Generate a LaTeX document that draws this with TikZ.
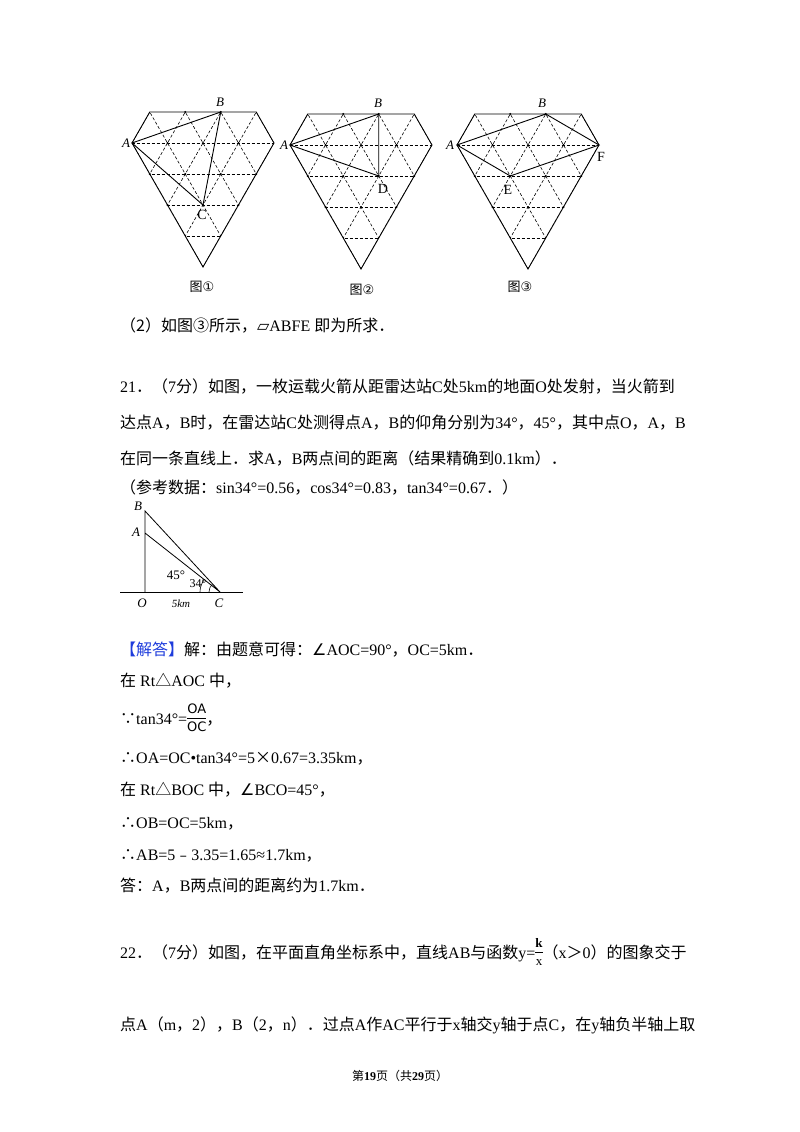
\documentclass[tikz,border=0pt]{standalone}
\usepackage{fontspec}
\setmainfont{Liberation Serif}
\newfontfamily\cjk{Noto Sans CJK SC}
\newfontfamily\dvs{DejaVu Sans}
\newcommand\zh[1]{{\cjk #1}}
\newcommand\myfr[2]{$\vcenter{\hbox{\fontsize{13}{14}\selectfont\setlength\tabcolsep{0pt}\begin{tabular}{c}#1\\[1pt]\hline\rule{0pt}{13pt}#2\end{tabular}}}$}
\newcommand\diagridA[1]{%
\begin{scope}[shift={#1},x={(35.5pt,0)},y={(0,31pt)}]
\begin{scope}
\clip (0,0)--(0.5,1)--(3.5,1)--(4,0)--(2,-4)--cycle;
\foreach \r in {-3,...,0} \draw[gridl] (-1,\r)--(5,\r);
\foreach \k in {-3,...,6} {\draw[gridl] (\k-2.5,-5)--(\k+1,2); \draw[gridl] (\k+2.5,-5)--(\k-1,2);}
\end{scope}
\draw[outl] (0,0)--(0.5,1)--(3.5,1)--(4,0)--(2,-4)--cycle;
\foreach \p in {(1,0),(2,0),(3,0),(1.5,-1),(2.5,-1),(1,-2),(2,-2),(3,-2),(1.5,1),(2.5,1),(0.5,-1),(3.5,-1)} \fill \p circle (0.035);
\end{scope}}
\tikzset{gridl/.style={dashed,line width=0.6pt,dash pattern=on 3pt off 2pt},outl/.style={line width=0.9pt},
 body/.style={anchor=base west,inner sep=0pt,font=\fontsize{16}{18}\selectfont},
 lab/.style={inner sep=0pt,font=\fontsize{13}{15}\selectfont}}
\begin{document}
\begin{tikzpicture}[x=1pt,y=-1pt]
\useasboundingbox (0,0) rectangle (800,1132);
\fill[white] (0,0) rectangle (800,1132);
% figures
\diagridA{(132,143)}
\diagridA{(290,145)}
\diagridA{(457,145)}
\begin{scope}[shift={(132,143)},x={(35.5pt,0)},y={(0,31pt)}]
\coordinate (a1) at (0,0); \coordinate (b1) at (2.5,1); \coordinate (c1) at (2,-2);
\draw[outl] (a1)--(b1)--(c1)--cycle;
\end{scope}
\begin{scope}[shift={(290,145)},x={(35.5pt,0)},y={(0,31pt)}]
\coordinate (a2) at (0,0); \coordinate (b2) at (2.5,1); \coordinate (d2) at (2.5,-1);
\draw[outl] (a2)--(b2)--(d2)--cycle;
\end{scope}
\begin{scope}[shift={(457,145)},x={(35.5pt,0)},y={(0,31pt)}]
\coordinate (a3) at (0,0); \coordinate (b3) at (2.5,1); \coordinate (f3) at (4,0); \coordinate (e3) at (1.5,-1);
\draw[outl] (a3)--(b3)--(f3)--(e3)--cycle;
\end{scope}
\node[lab,font=\itshape\fontsize{13}{15}\selectfont] (la1) at (126,143) {A};
\node[lab,font=\itshape\fontsize{13}{15}\selectfont] (lb1) at (220,102) {B};
\node[lab,font=\fontsize{14}{16}\selectfont] (lc1) at (202,215) {C};
\node[lab,font=\itshape\fontsize{13}{15}\selectfont] (la2) at (284,145) {A};
\node[lab,font=\itshape\fontsize{13}{15}\selectfont] (lb2) at (378,103) {B};
\node[lab,font=\fontsize{14}{16}\selectfont] (ld2) at (383,189) {D};
\node[lab,font=\itshape\fontsize{13}{15}\selectfont] (la3) at (450,145) {A};
\node[lab,font=\itshape\fontsize{13}{15}\selectfont] (lb3) at (542,103) {B};
\node[lab,font=\fontsize{14}{16}\selectfont] (lf3) at (601,157) {F};
\node[lab,font=\fontsize{14}{16}\selectfont] (le3) at (508,190) {E};
\node[lab,font=\cjk\fontsize{13}{15}\selectfont] (t1) at (202,287) {图\dvs ①};
\node[lab,font=\cjk\fontsize{13}{15}\selectfont] (t2) at (362,290) {图\dvs ②};
\node[lab,font=\cjk\fontsize{13}{15}\selectfont] (t3) at (520,287) {图\dvs ③};
% text
\node[body] (l1) at (120,331) {\zh{（2）如图③所示，}{\dvs ▱}ABFE \zh{即为所求．}};
\node[body] (l2) at (120,392) {21\zh{．（}7\zh{分）如图，一枚运载火箭从距雷达站}C\zh{处}5km\zh{的地面}O\zh{处发射，当火箭到}};
\node[body] (l3) at (120,428) {\zh{达点}A\zh{，}B\zh{时，在雷达站}C\zh{处测得点}A\zh{，}B\zh{的仰角分别为}34°\zh{，}45°\zh{，其中点}O\zh{，}A\zh{，}B};
\node[body] (l4) at (120,464) {\zh{在同一条直线上．求}A\zh{，}B\zh{两点间的距离（结果精确到}0.1km\zh{）．}};
\node[body] (l5) at (120,493) {\zh{（参考数据：}sin34°=0.56\zh{，}cos34°=0.83\zh{，}tan34°=0.67\zh{．）}};
% triangle figure
\coordinate (O) at (145,592); \coordinate (A) at (145,533); \coordinate (B) at (145,511); \coordinate (C) at (220,592);
\coordinate (g1) at (120,592); \coordinate (g2) at (243,592);
\draw[line width=0.8pt] (g1)--(g2);
\draw[line width=0.8pt] (O)--(B)--(C)--(A)--(O);
\draw[line width=0.6pt] ([shift={(180:20)}]C) arc[start angle=180,end angle=218,radius=20];
\draw[line width=0.6pt] ([shift={(180:11)}]C) arc[start angle=180,end angle=227,radius=11];
\node[lab,font=\itshape\fontsize{13}{15}\selectfont] (nB) at (138,506) {B};
\node[lab,font=\itshape\fontsize{13}{15}\selectfont] (nA) at (136,532) {A};
\node[lab,font=\itshape\fontsize{13}{15}\selectfont] (nO) at (142,603) {O};
\node[lab,font=\itshape\fontsize{13}{15}\selectfont] (nC) at (219,603) {C};
\node[lab,font=\itshape\fontsize{11}{13}\selectfont] (nk) at (181,604) {5km};
\node[lab,font=\fontsize{13}{15}\selectfont] (n45) at (176,575) {45°};
\node[lab,font=\fontsize{12}{14}\selectfont] (n34) at (198,584) {34°};
% solution
\node[body] (s1) at (120,655) {\zh{\color[RGB]{30,60,220}【解答】}\zh{解：由题意可得：}{\dvs ∠}AOC=90°\zh{，}OC=5km\zh{．}};
\node[body] (s2) at (120,686) {\zh{在} Rt\zh{△}AOC \zh{中，}};
\node[body] (s3) at (120,724) {\zh{∵}tan34°=\myfr{\dvs OA}{\dvs OC}\zh{，}};
\node[body] (s4) at (120,763) {\zh{∴}OA=OC•tan34°=5\zh{×}0.67=3.35km\zh{，}};
\node[body] (s5) at (120,795) {\zh{在} Rt\zh{△}BOC \zh{中，}{\dvs ∠}BCO=45°\zh{，}};
\node[body] (s6) at (120,828) {\zh{∴}OB=OC=5km\zh{，}};
\node[body] (s7) at (120,860) {\zh{∴}AB=5\zh{﹣}3.35=1.65≈1.7km\zh{，}};
\node[body] (s8) at (120,891) {\zh{答：}A\zh{，}B\zh{两点间的距离约为}1.7km\zh{．}};
\node[body] (p1) at (120,958) {22\zh{．（}7\zh{分）如图，在平面直角坐标系中，直线}AB\zh{与函数}y=\myfr{\textbf{k}}{x}\zh{（}x\zh{＞}0\zh{）的图象交于}};
\node[body] (p2) at (120,1030) {\zh{点}A\zh{（}m\zh{，}2\zh{），}B\zh{（}2\zh{，}n\zh{）．过点}A\zh{作}AC\zh{平行于}x\zh{轴交}y\zh{轴于点}C\zh{，在}y\zh{轴负半轴上取}};
\node[inner sep=0pt,anchor=base,font=\fontsize{12}{14}\selectfont] (ft) at (400,1080) {\zh{第}\textbf{19}\zh{页（共}\textbf{29}\zh{页）}};
\end{tikzpicture}
\end{document}
